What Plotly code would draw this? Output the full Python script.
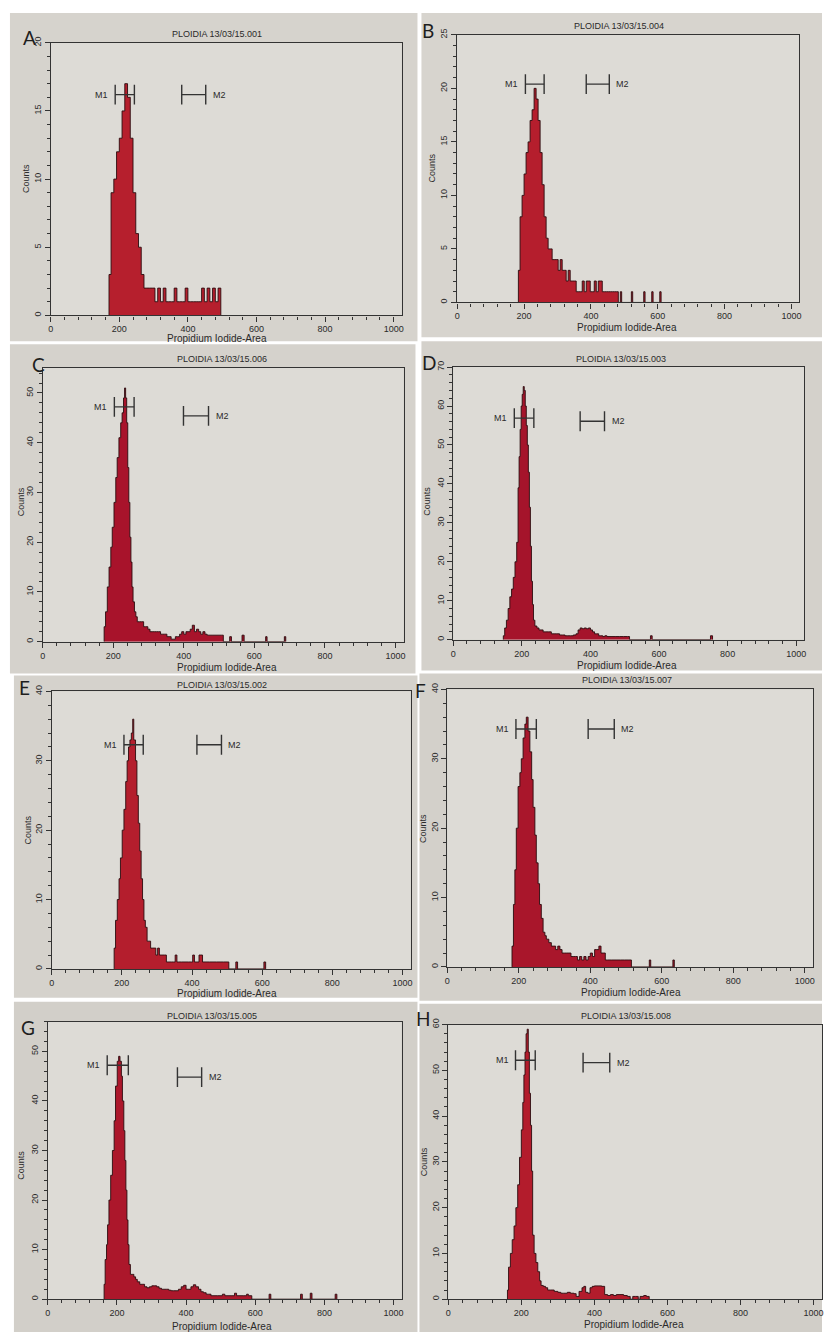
import plotly.graph_objects as go

W, H = 824, 1333

# ---------------- data: histogram bins as (channel, count) steps ----------------
a_bins = [(170, 3), (176, 9), (184, 10), (192, 12), (200, 13), (208, 15), (216, 17), (224, 16),
          (232, 13), (240, 9), (248, 6), (256, 5), (264, 3), (272, 2), (280, 2), (288, 2), (296, 2),
          (304, 1), (312, 2), (320, 1), (328, 2), (336, 1), (344, 1), (352, 1), (360, 2), (368, 1),
          (376, 1), (384, 1), (392, 2), (400, 1), (408, 1), (416, 1), (424, 1), (432, 1), (440, 2),
          (448, 1), (456, 2), (464, 1), (472, 2), (480, 1), (488, 2), (496, 0)]

b_bins = [(183, 3), (188, 8), (194, 10), (200, 12), (206, 14), (212, 15), (218, 17), (224, 18),
          (230, 20), (236, 19), (242, 17), (248, 14), (254, 11), (260, 8), (266, 6), (272, 5),
          (278, 5), (284, 4), (290, 4), (296, 4), (302, 3), (308, 4), (314, 3), (320, 3), (326, 2),
          (332, 3), (338, 2), (344, 2), (350, 2), (356, 1), (362, 1), (368, 1), (374, 2), (380, 1),
          (386, 2), (392, 2), (398, 1), (404, 1), (410, 2), (416, 1), (422, 2), (428, 2), (434, 1),
          (440, 1), (446, 1), (452, 1), (458, 1), (464, 1), (470, 1), (476, 1), (482, 0),
          (488, 1), (492, 0), (521, 1), (525, 0), (558, 1), (562, 0), (582, 1), (586, 0),
          (606, 1), (610, 0)]

c_bins = [(174, 3), (178, 6), (183, 11), (188, 15), (193, 19), (197, 23), (202, 28), (207, 33),
          (211, 37), (216, 41), (221, 44), (225, 46), (229, 49), (232, 51), (235, 49), (238, 44),
          (241, 35), (244, 28), (247, 21), (250, 16), (253, 11), (256, 8), (260, 6), (264, 5),
          (268, 4), (274, 4), (280, 4), (286, 3), (292, 3), (298, 2.5), (304, 2), (310, 2),
          (316, 2), (322, 2), (328, 2), (334, 1.5), (340, 1.5), (346, 1.5), (352, 1), (358, 1),
          (364, 0.5), (370, 0.5), (376, 1), (382, 1), (388, 1.5), (394, 2), (400, 1.5), (406, 2),
          (412, 2), (418, 2.5), (424, 3.3), (430, 2), (436, 2.5), (442, 2), (448, 1.5), (454, 2),
          (460, 1.5), (466, 1.3), (480, 1.3), (494, 1.3), (506, 1.3), (512, 0),
          (530, 1), (535, 0), (565, 1.3), (571, 0), (632, 1), (636, 0), (685, 1), (689, 0)]

d_bins = [(146, 1), (150, 3), (155, 5), (160, 8), (165, 11), (170, 13), (175, 16), (180, 20),
          (185, 25), (189, 39), (192, 47), (195, 54), (198, 60), (201, 63), (204, 65), (207, 64),
          (210, 60), (213, 55), (216, 50), (219, 43), (222, 34), (225, 24), (228, 15), (231, 9),
          (234, 5), (238, 3.5), (244, 3), (250, 2.5), (256, 2.5), (262, 2), (270, 2), (278, 2),
          (286, 1.5), (294, 1.5), (302, 1.5), (310, 1.2), (318, 1.2), (326, 1), (334, 1), (342, 1),
          (350, 1.2), (358, 1.5), (364, 2.5), (370, 3), (376, 2.8), (382, 3), (388, 2.8), (394, 3),
          (400, 2.5), (406, 2), (412, 1.5), (418, 1.5), (424, 1), (430, 1), (436, 0.8), (442, 1),
          (448, 0.8), (460, 0.8), (472, 0.8), (484, 0.8), (496, 0.8), (508, 0.8), (514, 0),
          (575, 1), (580, 0), (750, 1), (756, 0)]

e_bins = [(178, 3), (182, 7), (187, 10), (192, 13), (196, 16), (201, 20), (206, 23), (211, 27),
          (215, 30), (219, 32), (223, 33), (227, 34), (231, 36), (234, 33), (239, 30), (243, 25),
          (247, 21), (251, 17), (255, 13), (259, 10), (263, 7), (267, 6), (272, 4), (277, 4),
          (282, 3), (287, 3), (292, 3), (297, 2), (302, 3), (307, 2), (312, 2), (317, 2), (322, 2),
          (327, 1), (332, 1), (337, 1), (342, 1), (347, 1), (352, 2), (357, 1), (362, 1), (370, 1),
          (380, 1), (390, 1), (398, 1), (402, 2), (407, 1), (412, 1), (420, 2), (425, 2), (430, 1),
          (440, 1), (450, 1), (460, 1), (470, 1), (480, 1), (490, 1), (500, 1), (505, 0),
          (525, 1), (530, 0), (605, 1), (610, 0)]

f_bins = [(181, 3), (185, 9), (189, 14), (193, 20), (198, 26), (203, 28), (207, 30), (212, 33),
          (217, 35), (221, 36), (226, 34), (231, 31), (236, 27), (240, 23), (245, 19), (249, 15),
          (254, 12), (258, 9), (263, 7), (268, 5), (273, 4.5), (277, 4), (284, 3.5), (291, 3),
          (297, 3), (303, 2.5), (309, 3), (315, 2.5), (321, 2), (328, 2), (334, 2), (340, 2),
          (346, 1.5), (352, 1.5), (358, 1.5), (364, 1), (370, 1.5), (376, 1), (382, 1.5), (388, 1),
          (394, 1.5), (400, 2), (406, 1.5), (412, 2.5), (418, 2.5), (424, 3), (430, 2), (436, 2),
          (442, 1), (448, 1), (460, 1), (472, 1), (484, 1), (496, 1), (508, 1), (515, 0),
          (565, 1), (569, 0), (631, 1), (635, 0)]

g_bins = [(163, 3), (166, 8), (170, 11), (173, 15), (177, 20), (182, 25), (187, 30), (192, 36),
          (196, 43), (201, 48), (205, 49), (209, 48), (213, 45), (216, 40), (220, 34), (223, 28),
          (226, 22), (229, 16), (232, 11), (235, 7), (239, 5), (244, 5), (249, 4.5), (254, 4),
          (259, 3.5), (266, 3), (273, 3), (280, 2.5), (287, 2.3), (294, 2.5), (301, 2.7), (308, 2.7),
          (315, 2.5), (322, 2.2), (329, 2), (336, 2), (343, 2), (350, 1.8), (357, 1.7), (364, 1.7),
          (371, 1.7), (378, 2), (386, 2.5), (393, 2.8), (400, 2), (407, 2), (414, 2.5), (421, 2.9),
          (428, 2.5), (436, 2), (443, 1.5), (450, 1.3), (458, 1), (465, 1), (472, 0.7), (490, 0.7),
          (505, 1), (512, 0.7), (530, 0.7), (540, 1.2), (546, 0.7), (565, 0.7), (575, 1), (580, 0.7),
          (590, 0), (640, 1), (645, 0), (731, 1), (736, 0), (759, 1.2), (764, 0), (831, 1), (836, 0)]

h_bins = [(162, 2), (165, 7), (170, 10), (175, 13), (180, 16), (185, 20), (190, 25), (195, 31),
          (200, 37), (204, 43), (207, 49), (210, 54), (213, 58), (216, 59), (219, 54), (222, 45),
          (225, 38), (228, 28), (231, 14), (235, 10), (240, 8), (245, 6), (250, 4), (254, 3),
          (260, 2.8), (266, 2.5), (272, 2), (280, 2), (290, 1.7), (300, 1.5), (308, 1.3), (316, 1.3),
          (326, 1.5), (334, 1.3), (344, 1.2), (350, 0.6), (358, 1.7), (366, 2.5), (371, 2.8),
          (376, 1.5), (382, 1.3), (388, 2.5), (394, 2.8), (400, 2.9), (410, 2.9), (420, 2.8),
          (428, 1), (436, 0.8), (444, 1), (452, 0.8), (460, 1), (470, 1), (480, 0.8), (490, 0.6),
          (498, 0), (505, 0.6), (512, 0.6), (520, 0), (525, 0.6), (535, 0.8), (542, 0.6), (550, 0)]

letters = ["A", "B", "C", "D", "E", "F", "G", "H"]
sample_ids = ["001", "004", "006", "003", "002", "007", "005", "008"]
histograms = [a_bins, b_bins, c_bins, d_bins, e_bins, f_bins, g_bins, h_bins]
y_max = [20, 25, 55, 70, 40, 40, 56, 60]
y_major = [5, 5, 10, 10, 10, 10, 10, 10]
y_minor = [1, 1, 2, 2, 2, 2, 2, 2]
x_max = 1023

# gate markers: (start, end, level)
m1_gates = [(188, 244, 16.2), (204, 260, 20.4), (203, 259, 47.2), (178, 235, 56.9),
            (206, 261, 32.3), (192, 249, 34.3), (172, 233, 47.2), (184, 238, 52.2)]
m2_gates = [(382, 452, 16.2), (386, 455, 20.4), (399, 470, 45.4), (370, 441, 56.1),
            (414, 484, 32.3), (394, 467, 34.3), (375, 445, 44.8), (369, 442, 51.7)]

# ---------------- layout geometry (pixels) ----------------
# photo background rectangles: x0, y0, x1, y1
photo_rects = [(7, 7, 417, 337), (421, 7, 824, 333), (7, 340, 415, 671), (421, 337, 824, 668),
               (11, 673, 417, 997), (419, 671, 824, 1000), (11, 1001, 417, 1333), (419, 1003, 824, 1333)]
photo_fill = ["#d6d3cd", "#d7d4ce", "#d5d2cc", "#d4d1cb", "#d5d2cc", "#d3d0ca", "#d2cfc9", "#d1cec8"]
# plot box: x at channel 0, x at right edge, y at top, y at zero counts
boxes = [(48, 401, 37, 311), (457, 801, 29, 298), (40, 403, 364, 639), (453, 806, 363, 637),
         (49, 410, 689, 968), (447, 815, 687, 966), (45, 401, 1021, 1300), (448, 824, 1024, 1300)]
title_pos = [(215, 28), (620, 20), (220, 355), (622, 355), (220, 683), (628, 678), (210, 1015), (627, 1015)]
letter_pos = [(27, 32), (428, 25), (36, 360), (429, 358), (22, 685), (420, 688), (25, 1027), (423, 1018)]
counts_pos = [(23, 173), (432, 163), (18, 498), (427, 498), (25, 828), (422, 827), (18, 1165), (423, 1162)]
xtitle_pos = [(215, 334), (628, 323), (225, 665), (628, 663), (225, 993), (632, 992), (220, 1327), (635, 1325)]

fills = ["#b61f2d", "#b51e2d", "#a8132b", "#a5142b", "#b41e2d", "#a9162b", "#ac172b", "#b31c2c"]
EDGE = "#2b0b0e"
INK = "#2a2a2a"
AXIS = "#333333"
FONT = "Liberation Sans, Arial, sans-serif"


def fx(px):
    return px / W


def fy(py):
    return 1 - py / H


fig = go.Figure()
shapes = []
annotations = []

for r, col in zip(photo_rects, photo_fill):
    shapes.append(dict(type="rect", xref="paper", yref="paper", layer="below",
                       x0=fx(r[0]), x1=fx(r[2]), y0=fy(r[3]), y1=fy(r[1]),
                       fillcolor=col, line=dict(width=0)))

for i in range(8):
    n = i + 1
    xa = "x" if n == 1 else f"x{n}"
    ya = "y" if n == 1 else f"y{n}"
    bx0, bx1, by0, by1 = boxes[i]

    # plot-area background
    shapes.append(dict(type="rect", xref="paper", yref="paper", layer="below",
                       x0=fx(bx0), x1=fx(bx1), y0=fy(by1), y1=fy(by0),
                       fillcolor="#dddbd6", line=dict(width=0)))

    bins = histograms[i]
    hx = [bins[0][0]] + [b[0] for b in bins]
    hy = [0] + [b[1] for b in bins]
    fig.add_trace(go.Scatter(x=hx, y=hy, mode="lines", line_shape="hv",
                             line=dict(color=EDGE, width=0.9), fill="tozeroy",
                             fillcolor=fills[i], xaxis=xa, yaxis=ya, showlegend=False,
                             hoverinfo="skip"))

    # gate markers with end caps (cap half-height ~10 px)
    cap = 10 * y_max[i] / (by1 - by0)
    for (g0, g1, gy) in (m1_gates[i], m2_gates[i]):
        fig.add_trace(go.Scatter(
            x=[g0, g0, None, g0, g1, None, g1, g1],
            y=[gy - cap, gy + cap, None, gy, gy, None, gy - cap, gy + cap],
            mode="lines", line=dict(color="#333333", width=1.4),
            xaxis=xa, yaxis=ya, showlegend=False, hoverinfo="skip"))
    annotations.append(dict(x=m1_gates[i][0], y=m1_gates[i][2], xref=xa, yref=ya,
                            text="M1", showarrow=False, xanchor="right", xshift=-5,
                            font=dict(size=9, color=INK, family=FONT)))
    annotations.append(dict(x=m2_gates[i][1], y=m2_gates[i][2], xref=xa, yref=ya,
                            text="M2", showarrow=False, xanchor="left", xshift=5,
                            font=dict(size=9, color=INK, family=FONT)))

    axis_common = dict(showline=True, linecolor=AXIS, linewidth=1.3, mirror=True,
                       showgrid=False, zeroline=False, ticks="outside", ticklen=5,
                       tickwidth=1.2, tickcolor=AXIS,
                       tickfont=dict(size=9, color=INK, family=FONT))
    fig.update_layout(**{
        ("xaxis" if n == 1 else f"xaxis{n}"): dict(
            domain=[fx(bx0), fx(bx1)], range=[0, x_max], anchor=ya,
            dtick=200, tick0=0,
            minor=dict(dtick=40, tick0=0, ticks="outside", ticklen=3, tickwidth=1, tickcolor=AXIS),
            **axis_common),
        ("yaxis" if n == 1 else f"yaxis{n}"): dict(
            domain=[fy(by1), fy(by0)], range=[0, y_max[i]], anchor=xa,
            dtick=y_major[i], tick0=0, tickangle=-90,
            minor=dict(dtick=y_minor[i], tick0=0, ticks="outside", ticklen=3, tickwidth=1,
                       tickcolor=AXIS),
            **axis_common),
    })

    tx, ty = title_pos[i]
    annotations.append(dict(x=fx(tx), y=fy(ty), xref="paper", yref="paper",
                            text=f"PLOIDIA 13/03/15.{sample_ids[i]}", showarrow=False,
                            xanchor="center", yanchor="middle",
                            font=dict(size=9, color=INK, family=FONT)))
    lx, ly = letter_pos[i]
    annotations.append(dict(x=fx(lx), y=fy(ly), xref="paper", yref="paper",
                            text=letters[i], showarrow=False, xanchor="center", yanchor="middle",
                            font=dict(size=19, color="#1e1e1e", family="Lato, Open Sans, sans-serif")))
    cx, cy = counts_pos[i]
    annotations.append(dict(x=fx(cx), y=fy(cy), xref="paper", yref="paper", text="Counts",
                            showarrow=False, textangle=-90, xanchor="center", yanchor="middle",
                            font=dict(size=9, color=INK, family=FONT)))
    ax_, ay_ = xtitle_pos[i]
    annotations.append(dict(x=fx(ax_), y=fy(ay_), xref="paper", yref="paper",
                            text="Propidium Iodide-Area", showarrow=False,
                            xanchor="center", yanchor="middle",
                            font=dict(size=10, color=INK, family=FONT)))

fig.update_layout(width=W, height=H, margin=dict(l=0, r=0, t=0, b=0),
                  paper_bgcolor="#ffffff", plot_bgcolor="rgba(0,0,0,0)",
                  shapes=shapes, annotations=annotations, showlegend=False)

fig.write_html("out.html")
